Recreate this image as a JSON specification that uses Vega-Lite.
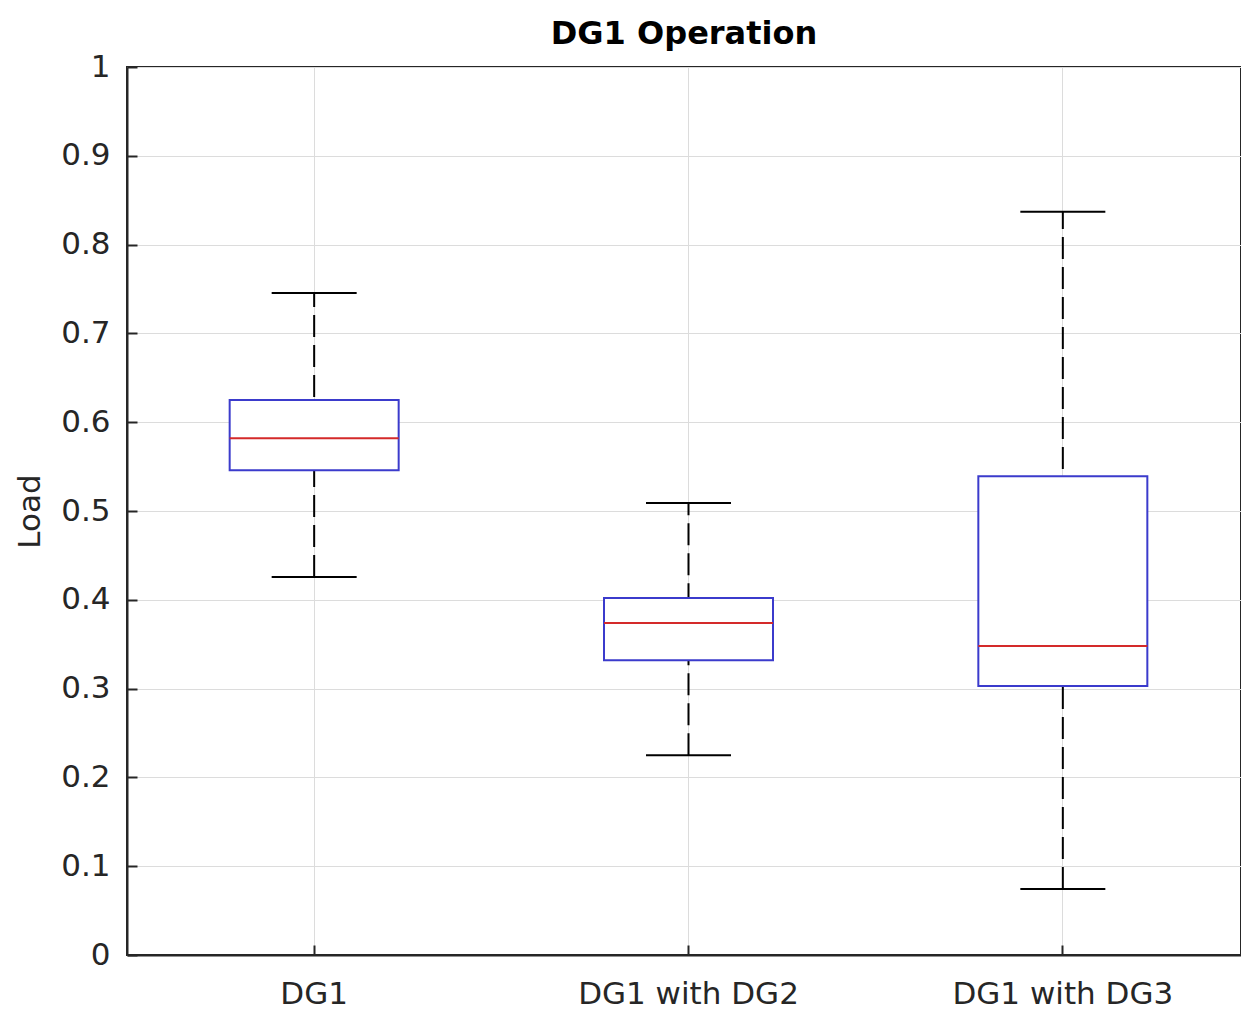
{
  "$schema": "https://vega.github.io/schema/vega-lite/v6.json",
  "width": 1114,
  "height": 888,
  "autosize": "none",
  "padding": {"left": 127, "top": 67, "right": 0, "bottom": 54},
  "background": "white",
  "title": {"text": "DG1 Operation", "font": "DejaVu Sans", "fontSize": 32, "fontWeight": "bold", "color": "#000000", "offset": 0, "anchor": "middle"},
  "config": {
    "view": {"stroke": "#262626", "strokeWidth": 2},
    "axis": {"labelFont": "DejaVu Sans", "titleFont": "DejaVu Sans", "labelColor": "#262626", "titleColor": "#262626", "gridColor": "#dcdcdc", "gridWidth": 1, "domainColor": "#262626", "domainWidth": 2, "tickColor": "#262626", "tickWidth": 2, "labelLimit": 0}
  },
  "data": {"values": [
    {"group": "DG1", "lower": 0.4257, "q1": 0.546, "median": 0.582, "q3": 0.625, "upper": 0.7455},
    {"group": "DG1 with DG2", "lower": 0.225, "q1": 0.332, "median": 0.374, "q3": 0.402, "upper": 0.509},
    {"group": "DG1 with DG3", "lower": 0.0743, "q1": 0.303, "median": 0.348, "q3": 0.539, "upper": 0.837}
  ]},
  "encoding": {
    "x": {"field": "group", "type": "nominal", "sort": null,
      "scale": {"type": "band", "range": [0, 1123], "paddingInner": 0, "paddingOuter": 0},
      "axis": {"title": null, "labelAngle": 0, "labelFontSize": 31, "labelPadding": 34, "tickSize": -10, "grid": true, "bandPosition": 0.5}
    }
  },
  "layer": [
    {
      "mark": {"type": "rule", "color": "#000000", "strokeWidth": 2, "strokeDash": [22, 8]},
      "encoding": {
        "y": {"field": "lower", "type": "quantitative", "scale": {"domain": [0, 1], "nice": false, "zero": false},
          "axis": {"title": "Load", "format": "~g", "titleFontSize": 31, "titleFontWeight": "normal", "titlePadding": 14, "labelFontSize": 31, "labelPadding": 27, "tickSize": -10, "values": [0, 0.1, 0.2, 0.3, 0.4, 0.5, 0.6, 0.7, 0.8, 0.9, 1], "grid": true}},
        "y2": {"field": "upper"}
      }
    },
    {
      "mark": {"type": "tick", "color": "#000000", "size": 85, "thickness": 2, "opacity": 1},
      "encoding": {"y": {"field": "upper", "type": "quantitative"}}
    },
    {
      "mark": {"type": "tick", "color": "#000000", "size": 85, "thickness": 2, "opacity": 1},
      "encoding": {"y": {"field": "lower", "type": "quantitative"}}
    },
    {
      "mark": {"type": "bar", "fill": "white", "stroke": "#3b3bcc", "strokeWidth": 2, "width": 169},
      "encoding": {"y": {"field": "q1", "type": "quantitative"}, "y2": {"field": "q3"}}
    },
    {
      "mark": {"type": "tick", "color": "#d42a2a", "size": 169, "thickness": 2, "opacity": 1},
      "encoding": {"y": {"field": "median", "type": "quantitative"}}
    }
  ]
}
